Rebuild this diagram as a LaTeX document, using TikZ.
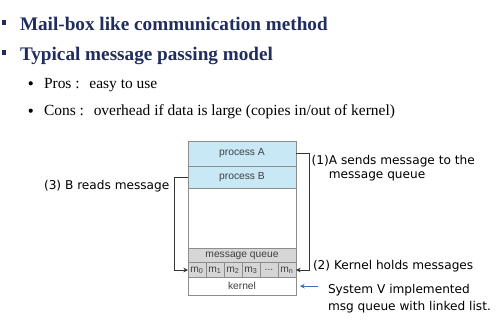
\documentclass[tikz,border=0pt]{standalone}
\usepackage{fontspec}
\setmainfont{Liberation Serif}
\newfontfamily\arialfont{Liberation Sans}
\newfontfamily\tahomafont{DejaVu Sans}
\usetikzlibrary{arrows.meta,positioning,calc}
\usepackage{xcolor}
\definecolor{navy}{HTML}{202D5E}
\definecolor{procblue}{HTML}{C8E8F6}
\definecolor{queuegray}{HTML}{D6D6D6}
\definecolor{boxline}{HTML}{8C8C8C}
\definecolor{linkgray}{HTML}{333333}
\definecolor{noteblue}{HTML}{3F6FB5}
\newdimen\px \px=0.75pt

\begin{document}
\begin{tikzpicture}[
  x=0.75pt, y=-0.75pt,
  every node/.style={inner sep=0pt, outer sep=0pt},
  title/.style={font=\fontsize{14.4}{17}\selectfont\bfseries, text=navy, anchor=base west},
  item/.style={font=\fontsize{11.6}{14}\selectfont, anchor=base west},
  cell/.style={draw=boxline, fill=queuegray, minimum height=14.5\px, minimum width=18\px,
    font=\arialfont\fontsize{7.7}{9}\selectfont, text=black!75},
  proc/.style={draw=boxline, fill=procblue, minimum width=108\px,
    font=\arialfont\fontsize{7.7}{9}\selectfont, text=black!75},
  lbl/.style={font=\tahomafont\fontsize{9.1}{10}\selectfont, align=left},
  link/.style={draw=linkgray, line width=0.7pt, -{Stealth[length=3.5pt,width=3.5pt]}}
]
  \useasboundingbox (0,0) rectangle (499,326);

  % Slide text
  \fill[navy] (1.5,20.3) rectangle (5.9,24.7);
  \fill[navy] (1.5,50.3) rectangle (5.9,54.7);
  \node[title] (t1) at (20,30.7) {Mail-box like communication method};
  \node[title] (t2) at (20,60) {Typical message passing model};
  \fill (30.7,83.3) circle (2.1);
  \fill (30.7,110.7) circle (2.1);
  \node[item] (pros) at (44,88.3) {Pros :\hspace{0.3em} easy to use};
  \node[item] (cons) at (44,115) {Cons :\hspace{0.3em} overhead if data is large (copies in/out of kernel)};

  % Address space
  \node[draw=boxline, minimum width=108\px, minimum height=154\px] (mem) at (242,218) {};
  \node[proc, minimum height=25\px, anchor=north] (procA) at (mem.north) {process A};
  \node[proc, minimum height=22\px, below=0pt of procA] (procB) {process B};
  \node[draw=boxline, minimum width=108\px, minimum height=17.7\px, anchor=south,
    font=\arialfont\fontsize{7.7}{9}\selectfont, text=black!75] (kernel) at (mem.south) {kernel};
  \foreach \lab/\nm [count=\i from 0] in {0/m0, 1/m1, 2/m2, 3/m3, {}/mdots, n/mn} {
    \ifx\lab\empty
      \node[cell] (\nm) at (197+18*\i,270) {...};
    \else
      \node[cell] (\nm) at (197+18*\i,270) {m\textsubscript{\lab}};
    \fi
  }
  \node[cell, minimum width=108\px] (mqhead) at (242,255.5) {message queue};

  % Steps
  \draw[link] (procA.east) -- ++(13,0) |- (mn.east);
  \draw[link] (procB.west) -- ++(-14,0) |- (m0.west);
  \node[lbl, anchor=west] (lblA) at (311.7,168.3)
    {(1)A sends message to the\\\phantom{(1)}message queue};
  \node[lbl, anchor=west] (lblK) at (313,266) {(2) Kernel holds messages};
  \node[lbl, anchor=east] (lblB) at (169.3,185.7) {(3) B reads message};

  % Note
  \node[lbl, anchor=west, font=\tahomafont\fontsize{9.1}{12.8}\selectfont] (sysv) at (328,299)
    {System V implemented\\msg queue with linked list.};
  \draw[draw=noteblue, line width=0.9pt, -{Stealth[length=3.5pt,width=3.5pt]}]
    ([xshift=22\px]kernel.east) -- ([xshift=4\px]kernel.east);
\end{tikzpicture}
\end{document}
